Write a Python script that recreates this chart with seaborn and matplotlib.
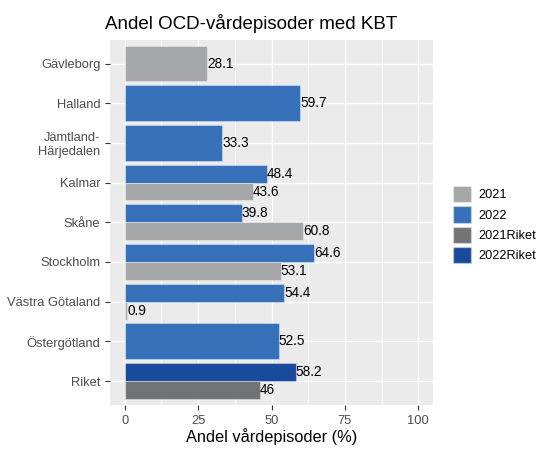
import pandas as pd
import matplotlib.pyplot as plt
import seaborn as sns
from matplotlib.patches import Patch
from matplotlib.ticker import MultipleLocator

# Data
regions = ['Gävleborg', 'Halland', 'Jämtland-\nHärjedalen', 'Kalmar', 'Skåne',
           'Stockholm', 'Västra Götaland', 'Östergötland', 'Riket']
values_2021 = [28.1, None, None, 43.6, 60.8, 53.1, 0.9, None, None]
values_2022 = [None, 59.7, 33.3, 48.4, 39.8, 64.6, 54.4, 52.5, None]
values_2021_riket = [None, None, None, None, None, None, None, None, 46]
values_2022_riket = [None, None, None, None, None, None, None, None, 58.2]

series = ['2021', '2022', '2021Riket', '2022Riket']
colors = {'2021': '#A4A6A7', '2022': '#3670B9', '2021Riket': '#717374', '2022Riket': '#1A4A9C'}

# Long format table
rows = []
for name, vals in zip(series, [values_2021, values_2022, values_2021_riket, values_2022_riket]):
    for region, v in zip(regions, vals):
        if v is not None:
            rows.append({'region': region, 'series': name, 'value': v})
df = pd.DataFrame(rows)

# Regions with one bar get the full band, the rest are dodged (2022 on top)
counts = df.groupby('region')['series'].transform('count')
single = df[counts == 1]
pairs = df[counts > 1].copy()
pairs['slot'] = pairs['series'].map({'2022': 'top', '2022Riket': 'top',
                                     '2021': 'bottom', '2021Riket': 'bottom'})

plt.rcParams['font.family'] = ['Liberation Sans', 'DejaVu Sans']
fig = plt.figure(figsize=(5.46, 4.68), dpi=100)
ax = fig.add_axes([0.2015, 0.135, 0.5916, 0.78])
ax.set_facecolor('#EBEBEB')

edge = (1, 1, 1, 0.35)
sns.barplot(data=single, y='region', x='value', hue='series', order=regions,
            palette=colors, dodge=False, width=0.9, saturation=1, legend=False,
            edgecolor=edge, linewidth=0.8, ax=ax)
before = len(ax.patches)
sns.barplot(data=pairs, y='region', x='value', hue='slot', order=regions,
            hue_order=['top', 'bottom'], palette={'top': 'k', 'bottom': 'k'},
            dodge=True, width=0.9, saturation=1, legend=False,
            edgecolor=edge, linewidth=0.8, ax=ax)

# colour each dodged bar by its real series
for p in ax.patches[before:]:
    if p.get_width() == 0:
        continue
    yc = p.get_y() + p.get_height() / 2
    idx = int(round(yc))
    slot = 'top' if yc < idx else 'bottom'
    match = pairs[(pairs['region'] == regions[idx]) & (pairs['slot'] == slot)]
    if len(match):
        p.set_facecolor(colors[match['series'].iloc[0]])

# Value labels
for p in ax.patches:
    w = p.get_width()
    if w == 0 or pd.isna(w):
        continue
    ax.text(w, p.get_y() + p.get_height() / 2, f'{w:g}', va='center', ha='left',
            fontsize=9.8, color='black')

ax.set_xlim(-5, 105)
ax.set_ylim(len(regions) - 0.4, -0.6)
ax.xaxis.set_major_locator(MultipleLocator(25))
ax.xaxis.set_minor_locator(MultipleLocator(12.5))
ax.set_axisbelow(True)
ax.grid(which='major', color='white', linewidth=1.0)
ax.grid(which='minor', axis='x', color='white', linewidth=0.5)
for s in ax.spines.values():
    s.set_visible(False)
ax.tick_params(axis='both', which='major', length=3.5, color='#333333',
               labelcolor='#4D4D4D', labelsize=9.3)
ax.tick_params(axis='both', which='minor', length=0)
ax.set_ylabel('')
ax.set_xlabel('Andel vårdepisoder (%)', fontsize=11.8, labelpad=1)
ax.set_title('Andel OCD-vårdepisoder med KBT', fontsize=13.5, loc='left', pad=8,
             x=-0.015)

handles = [Patch(facecolor=colors[s], edgecolor=edge) for s in series]
fig.legend(handles, series, loc='center left', bbox_to_anchor=(0.808, 0.52),
           frameon=False, fontsize=9.2, handlelength=1.4, handleheight=1.6,
           labelspacing=0.3, handletextpad=0.6)

fig.savefig('out.png', dpi=100)
